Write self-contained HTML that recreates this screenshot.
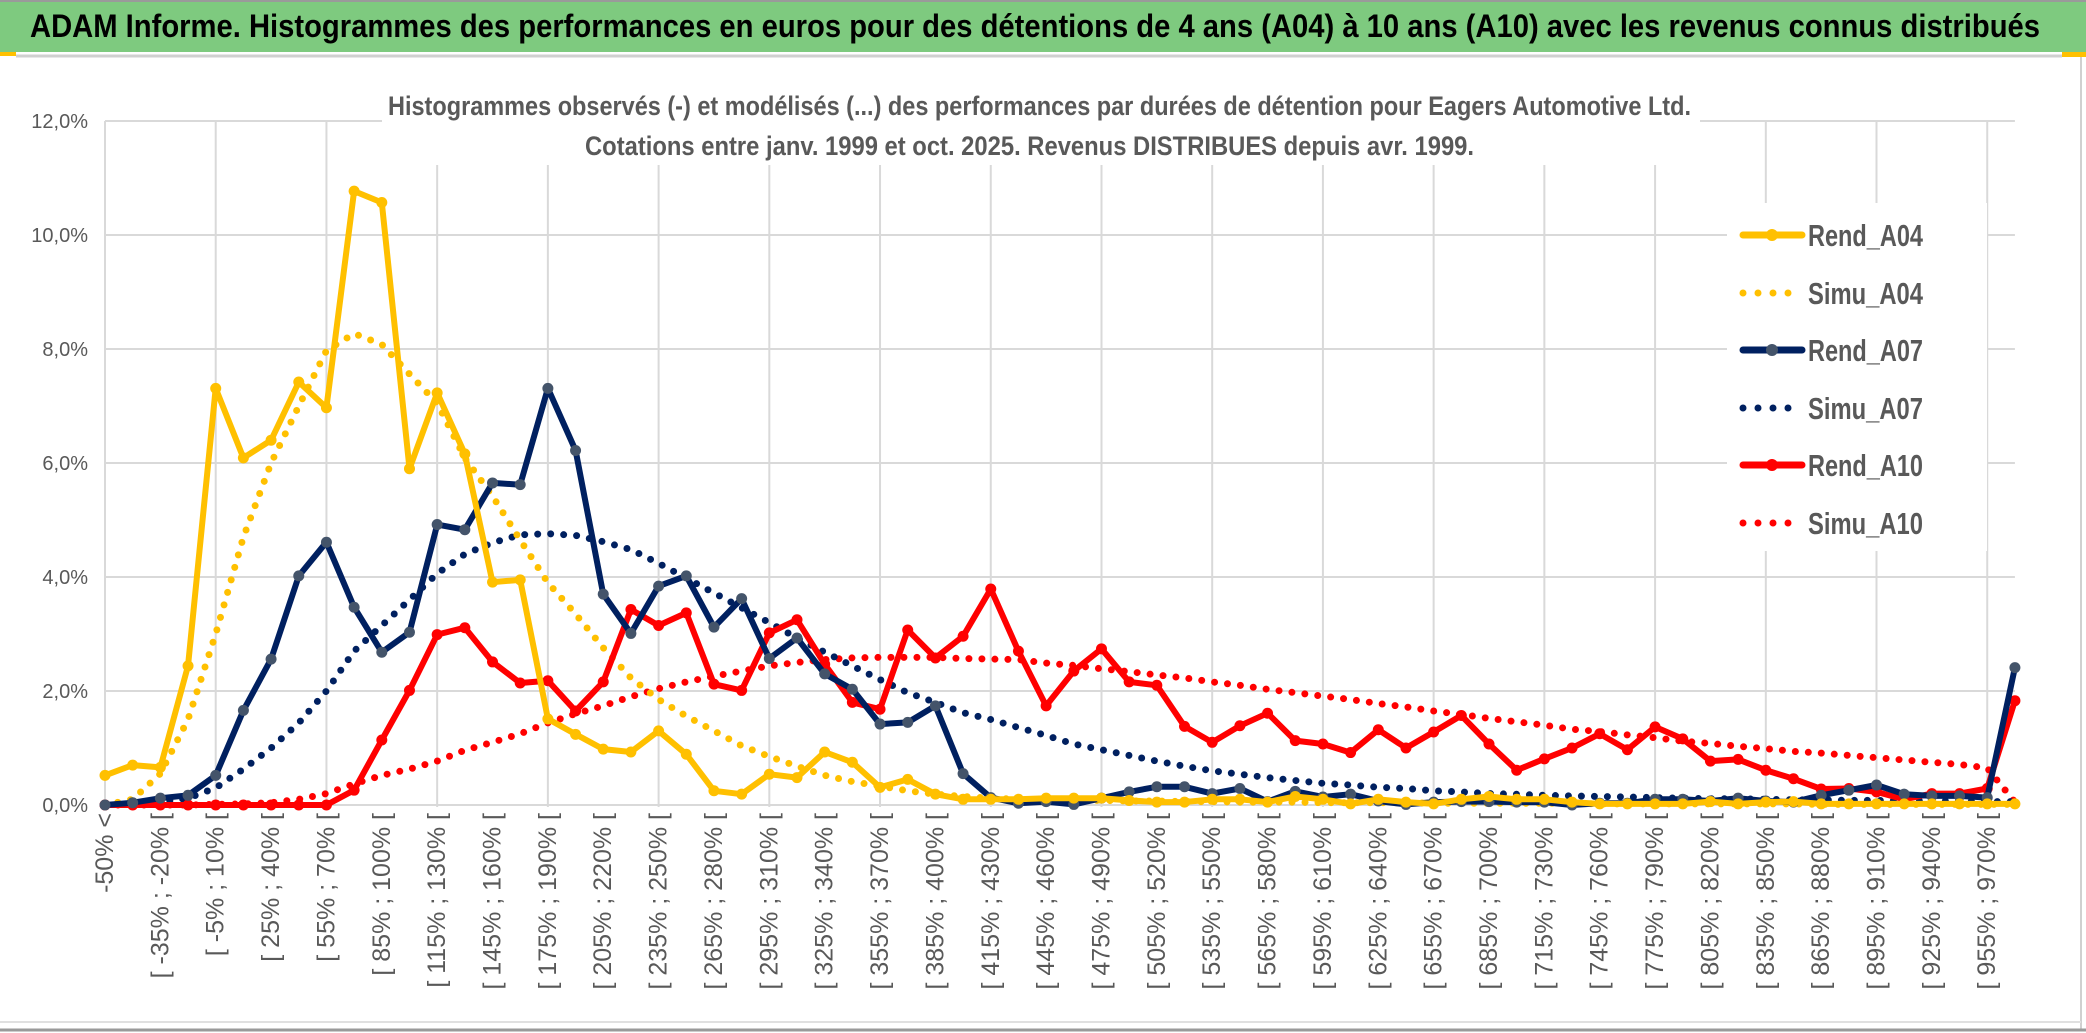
<!DOCTYPE html>
<html><head><meta charset="utf-8">
<style>
html,body{margin:0;padding:0;background:#fff;}
svg{display:block;}
text{font-family:"Liberation Sans Narrow","Liberation Sans",sans-serif;}
</style></head>
<body>
<svg id="chart" width="2086" height="1033" viewBox="0 0 2086 1033" xmlns="http://www.w3.org/2000/svg">
  <rect x="0" y="0" width="2086" height="1033" fill="#ffffff"/>
  <rect x="0" y="0" width="2086" height="52" fill="#7ECA7F"/>
  <line x1="0" y1="1" x2="2086" y2="1" stroke="#9a9a9a" stroke-width="2"/>
  <rect x="0" y="52" width="16" height="4" fill="#FFC000"/>
  <rect x="2062" y="52" width="24" height="5" fill="#FFC000"/>
  <line x1="16" y1="56" x2="2062" y2="56" stroke="#d0d0d0" stroke-width="3"/>
  <text x="30" y="37" font-size="32" font-weight="bold" fill="#000" textLength="2010" lengthAdjust="spacingAndGlyphs">ADAM Informe. Histogrammes des performances en euros pour des détentions de 4 ans (A04) à 10 ans (A10) avec les revenus connus distribués</text>
  <line x1="2081" y1="57" x2="2081" y2="1031" stroke="#d0d0d0" stroke-width="2"/>
  <line x1="0" y1="1030" x2="2086" y2="1030" stroke="#9a9a9a" stroke-width="3"/>
  <line x1="0" y1="1022" x2="2081" y2="1022" stroke="#e0e0e0" stroke-width="2"/>
  <g id="grid"></g>
  <g id="yaxis"></g>
  <g id="xaxis"></g>
  <rect x="382" y="78" width="1318" height="87" fill="#fff"/>
  <text x="388" y="115" font-size="27" font-weight="bold" fill="#595959" textLength="1303" lengthAdjust="spacingAndGlyphs">Histogrammes observés (-) et modélisés (...) des performances par durées de détention pour Eagers Automotive Ltd.</text>
  <text x="585" y="155" font-size="27" font-weight="bold" fill="#595959" textLength="889" lengthAdjust="spacingAndGlyphs">Cotations entre janv. 1999 et oct. 2025. Revenus DISTRIBUES depuis avr. 1999.</text>
  <g id="series"></g>
  <g id="legend"></g>
</svg>
<script>
// ---- chart data ----
const yTicks = [0, 2, 4, 6, 8, 10, 12];
const yTickLabels = ["0,0%", "2,0%", "4,0%", "6,0%", "8,0%", "10,0%", "12,0%"];
const categories = ["-50% <"];
for (let lo = -50; lo <= 970; lo += 15) { categories.push("[ " + lo + "% ; " + (lo + 15) + "% ["); }
categories.length = 70;
const rendA04 = [0.52,0.70,0.66,2.44,7.31,6.09,6.40,7.42,6.97,10.77,10.57,5.90,7.23,6.16,3.91,3.95,1.51,1.24,0.98,0.93,1.30,0.89,0.25,0.19,0.54,0.48,0.93,0.75,0.31,0.45,0.19,0.10,0.10,0.10,
0.12,0.12,0.12,0.08,0.05,0.05,0.10,0.10,0.05,0.15,0.10,0.02,0.10,0.05,0.02,0.10,0.15,0.10,
0.10,0.05,0.02,0.02,0.02,0.02,0.06,0.02,0.05,0.06,0.02,0.02,0.02,0.02,0.02,0.02,0.02,0.02];
const simuA04 = [0.0,0.1,0.55,1.5,3.0,4.7,6.0,7.0,7.97,8.27,8.08,7.56,7.05,6.09,5.42,4.65,3.9,3.35,2.76,2.23,1.85,1.56,1.30,1.04,0.85,0.68,0.52,0.41,0.33,0.25,0.19,0.15,0.12,0.10,
0.09,0.08,0.08,0.07,0.07,0.06,0.06,0.05,0.05,0.05,0.04,0.04,0.04,0.04,0.03,0.03,0.03,0.03,
0.03,0.03,0.02,0.02,0.02,0.02,0.02,0.02,0.02,0.02,0.01,0.01,0.01,0.01,0.01,0.01,0.01,0.01];
const rendA07 = [0.0,0.04,0.12,0.17,0.52,1.66,2.56,4.02,4.61,3.47,2.68,3.03,4.92,4.83,5.65,5.62,7.31,
6.22,3.70,3.01,3.84,4.02,3.12,3.62,2.57,2.93,2.30,2.03,1.42,1.45,1.74,0.55,0.13,0.03,
0.06,0.01,0.12,0.23,0.32,0.32,0.20,0.29,0.06,0.24,0.14,0.19,0.07,0.01,0.05,0.06,0.06,0.05,
0.05,0.00,0.03,0.03,0.10,0.10,0.07,0.12,0.07,0.05,0.17,0.26,0.35,0.19,0.16,0.16,0.13,2.41];
const simuA07 = [0.0,0.02,0.05,0.12,0.3,0.63,1.0,1.44,2.0,2.7,3.15,3.6,4.06,4.4,4.6,4.74,4.76,
4.73,4.62,4.48,4.24,3.98,3.72,3.46,3.2,2.93,2.68,2.44,2.2,1.97,1.8,1.62,1.5,1.36,
1.22,1.07,0.97,0.87,0.77,0.68,0.60,0.54,0.48,0.43,0.38,0.35,0.31,0.29,0.25,0.23,0.20,0.19,
0.17,0.16,0.15,0.14,0.13,0.12,0.11,0.11,0.10,0.09,0.09,0.08,0.08,0.07,0.07,0.07,0.06,0.06];
const rendA10 = [0,0,0,0,0,0,0,0,0,0.26,1.14,2.01,2.99,3.11,2.51,2.14,2.18,
1.65,2.16,3.43,3.15,3.37,2.12,2.01,3.02,3.25,2.47,1.80,1.68,3.07,2.58,2.96,3.79,2.70,
1.74,2.35,2.74,2.16,2.10,1.38,1.10,1.39,1.61,1.13,1.07,0.92,1.32,1.00,1.28,1.57,1.07,0.61,
0.81,1.00,1.25,0.97,1.37,1.16,0.77,0.80,0.61,0.46,0.28,0.29,0.23,0.10,0.20,0.20,0.29,1.83];
const simuA10 = [0,0,0,0,0.01,0.02,0.04,0.1,0.2,0.37,0.52,0.63,0.77,0.96,1.1,1.25,1.44,
1.6,1.74,1.90,2.04,2.16,2.26,2.35,2.44,2.50,2.55,2.58,2.59,2.59,2.59,2.57,2.56,2.55,
2.49,2.45,2.39,2.34,2.28,2.23,2.16,2.10,2.03,1.97,1.91,1.85,1.78,1.72,1.65,1.59,1.52,1.46,
1.40,1.33,1.29,1.23,1.18,1.12,1.08,1.03,0.99,0.94,0.91,0.87,0.83,0.79,0.75,0.71,0.65,0.05];
const seriesNames = ["Rend_A04","Simu_A04","Rend_A07","Simu_A07","Rend_A10","Simu_A10"];

// ---- axis functions ----
const NS = "http://www.w3.org/2000/svg";
const X0 = 105, DX = 27.68, Y0 = 805, PY = 57;
function xPix(i) { return X0 + i * DX; }
function yPix(v) { return Y0 - v * PY; }
function mk(tag, attrs, parent) {
  const e = document.createElementNS(NS, tag);
  for (const k in attrs) e.setAttribute(k, attrs[k]);
  parent.appendChild(e);
  return e;
}
const grid = document.getElementById("grid");
const yaxis = document.getElementById("yaxis");
const xaxis = document.getElementById("xaxis");
const seriesG = document.getElementById("series");
const legend = document.getElementById("legend");
const xEnd = xPix(categories.length - 1);

yTicks.forEach(function (t, k) {
  const gl = mk("line", {x1: X0, x2: xEnd, y1: yPix(t), y2: yPix(t), stroke: "#d9d9d9", "stroke-width": 2}, grid);
  
  
  const tl = mk("text", {x: 88, y: yPix(t) + 7, "text-anchor": "end", "font-size": 20, fill: "#595959"}, yaxis);
  tl.textContent = yTickLabels[k];
  
  
});
for (let i = 0; i < categories.length; i += 4) {
  const vl = mk("line", {x1: xPix(i), x2: xPix(i), y1: yPix(12), y2: Y0 + 2, stroke: "#d9d9d9", "stroke-width": 2}, grid);
  
  
}
categories.forEach(function (c, i) {
  if (i % 2 !== 0) return;
  const x = xPix(i) + 8, y = 813;
  const t = mk("text", {x: x, y: y, "text-anchor": "end", "font-size": 25, fill: "#595959",
    "font-family": "Liberation Sans, sans-serif", transform: "rotate(-90 " + x + " " + y + ")"}, xaxis);
  t.textContent = c;
  
  
});

function pts(arr) { return arr.map(function (v, i) { return xPix(i).toFixed(1) + "," + yPix(v).toFixed(1); }).join(" "); }
function drawDotted(arr, color, name) {
  const p = mk("polyline", {points: pts(arr), fill: "none", stroke: color, "stroke-width": 7,
    "stroke-linecap": "round", "stroke-dasharray": "0 13"}, seriesG);
  
  
}
function drawSolid(arr, color, markerColor, name) {
  const p = mk("polyline", {points: pts(arr), fill: "none", stroke: color, "stroke-width": 6,
    "stroke-linejoin": "round"}, seriesG);
  
  
  arr.forEach(function (v, i) {
    const c = mk("circle", {cx: xPix(i), cy: yPix(v), r: 5.5, fill: markerColor}, seriesG);
    
    
  });
}
drawDotted(simuA10, "#FF0000", "simu-a10-line");
drawDotted(simuA07, "#002060", "simu-a07-line");
drawDotted(simuA04, "#FFC000", "simu-a04-line");
drawSolid(rendA10, "#FF0000", "#FF0000", "rend-a10-line");
drawSolid(rendA07, "#002060", "#44546A", "rend-a07-line");
drawSolid(rendA04, "#FFC000", "#FFC000", "rend-a04-line");

// ---- legend ----
const lb = mk("rect", {x: 1727, y: 203, width: 260, height: 348, fill: "#fff"}, legend);


const legColors = ["#FFC000","#FFC000","#002060","#002060","#FF0000","#FF0000"];
const legMarker = ["#FFC000",null,"#44546A",null,"#FF0000",null];
const legY = [235, 293, 350, 408, 465, 523];
seriesNames.forEach(function (n, k) {
  const g = mk("g", {}, legend);
  
  
  const y = legY[k];
  if (legMarker[k]) {
    mk("line", {x1: 1743, x2: 1802, y1: y, y2: y, stroke: legColors[k], "stroke-width": 7, "stroke-linecap": "round"}, g);
    mk("circle", {cx: 1772, cy: y, r: 6, fill: legMarker[k]}, g);
  } else {
    mk("line", {x1: 1743, x2: 1803, y1: y, y2: y, stroke: legColors[k], "stroke-width": 7, "stroke-linecap": "round", "stroke-dasharray": "0 15"}, g);
  }
  const t = mk("text", {x: 1808, y: y + 11, "font-size": 31, "font-weight": "bold", fill: "#595959",
    textLength: 115, lengthAdjust: "spacingAndGlyphs"}, g);
  t.textContent = n;
});
</script>
</body></html>
